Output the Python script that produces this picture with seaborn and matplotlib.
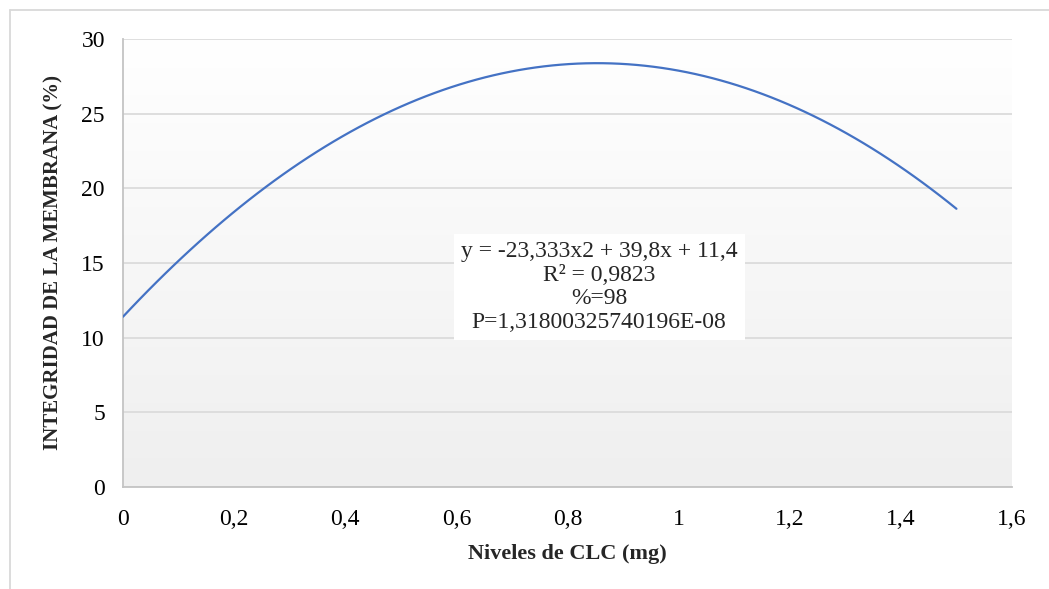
import numpy as np
import pandas as pd
import matplotlib
matplotlib.use("Agg")
import matplotlib.pyplot as plt
import seaborn as sns
from matplotlib.lines import Line2D
from matplotlib.colors import LinearSegmentedColormap

# Values
niveles = [0.0, 0.1, 0.2, 0.3, 0.4, 0.5, 0.6, 0.7, 0.8, 0.9, 1.0, 1.1, 1.2, 1.3, 1.4, 1.5]
integridad = [11.4, 15.15, 18.43, 21.24, 23.59, 25.47, 26.90, 27.83, 28.31, 28.32,
              27.87, 26.96, 25.56, 23.77, 21.44, 18.6]
x_ticks = [0, 0.2, 0.4, 0.6, 0.8, 1.0, 1.2, 1.4, 1.6]
x_tick_labels = ["0", "0,2", "0,4", "0,6", "0,8", "1", "1,2", "1,4", "1,6"]
y_ticks = [0, 5, 10, 15, 20, 25, 30]
annotation = "y = -23,333x2 + 39,8x + 11,4\nR² = 0,9823\n%=98\nP=1,31800325740196E-08"

df = pd.DataFrame({"niveles": niveles, "integridad": integridad})

sns.set_theme(style="white")
plt.rcParams["font.family"] = ["Liberation Serif", "DejaVu Serif"]

fig = plt.figure(figsize=(10.49, 5.89), dpi=100)
ax = fig.add_axes([123 / 1049, 1 - 487 / 589, (1012 - 123) / 1049, (487 - 39) / 589])

# gradient background
grad = np.linspace(0, 1, 256).reshape(-1, 1)
cmap = LinearSegmentedColormap.from_list("g", ["#ffffff", "#efefef"])
ax.imshow(grad, extent=[0, 1, 0, 1], transform=ax.transAxes, cmap=cmap,
          aspect="auto", zorder=0, origin="upper")

sns.regplot(data=df, x="niveles", y="integridad", order=2, ci=None, scatter=False,
            ax=ax, line_kws={"color": "#4472C4", "linewidth": 1.6, "zorder": 3})

ax.set_xlim(0, 1.6)
ax.set_ylim(0, 30)
ax.set_xticks(x_ticks)
ax.set_xticklabels(x_tick_labels)
ax.set_yticks(y_ticks)
ax.tick_params(axis="both", labelsize=17, length=0, colors="black")
ax.tick_params(axis="x", pad=16)
ax.tick_params(axis="y", pad=13)
ax.grid(axis="y", color="#d9d9d9", linewidth=1.2, zorder=1)
ax.set_axisbelow(True)
for s in ["top", "right"]:
    ax.spines[s].set_visible(False)
for s in ["left", "bottom"]:
    ax.spines[s].set_color("#c4c4c4")
    ax.spines[s].set_linewidth(1.3)

ax.set_xlabel("Niveles de CLC (mg)", fontsize=16, fontweight="bold", labelpad=10)
ax.set_ylabel("INTEGRIDAD DE LA MEMBRANA (%)", fontsize=15, fontweight="bold", labelpad=13)

ax.text(0.857, 13.4, annotation, ha="center", va="center", fontsize=17,
        linespacing=1.17, zorder=4,
        bbox=dict(boxstyle="square,pad=0.3", facecolor="white", edgecolor="none"))

# figure border (light grey)
fig.add_artist(Line2D([10 / 1049, 10 / 1049], [0, 1 - 10 / 589], transform=fig.transFigure,
                      color="#d9d9d9", linewidth=1.3))
fig.add_artist(Line2D([10 / 1049, 1], [1 - 10 / 589, 1 - 10 / 589], transform=fig.transFigure,
                      color="#d9d9d9", linewidth=1.3))

fig.savefig("out.png", dpi=100)
